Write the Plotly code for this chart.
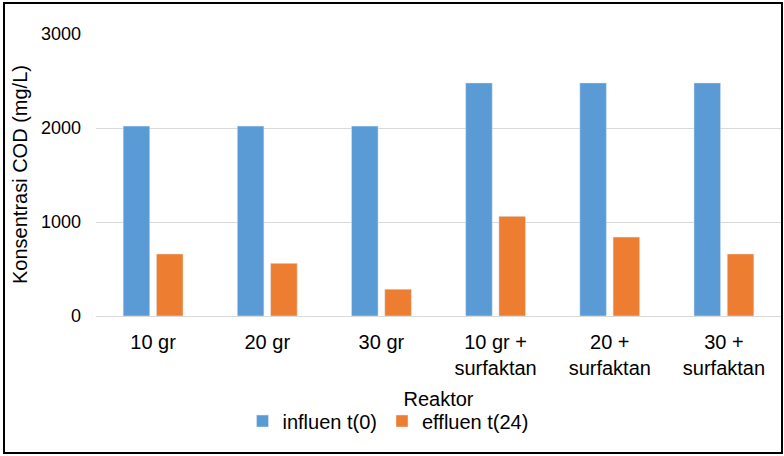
import plotly.graph_objects as go

categories = ["10 gr", "20 gr", "30 gr", "10 gr +<br>surfaktan", "20 +<br>surfaktan", "30 +<br>surfaktan"]
influen = [2020, 2020, 2020, 2480, 2480, 2480]
effluen = [660, 560, 285, 1060, 840, 660]
series_names = ["influen t(0)", "effluen t(24)"]
y_ticks = [0, 1000, 2000, 3000]

W, H = 784, 456
L, R, T, B = 96, 3, 34, 140
pw, ph = W - L - R, H - T - B

def px_x(p):
    return (p - L) / pw

def px_y(p):
    return (H - B - p) / ph

font_family = "Liberation Sans, Arial, sans-serif"

fig = go.Figure()
fig.add_trace(go.Bar(x=categories, y=influen, name=series_names[0], marker_color="#5B9BD5"))
fig.add_trace(go.Bar(x=categories, y=effluen, name=series_names[1], marker_color="#ED7D31"))

fig.update_layout(
    width=W, height=H,
    margin=dict(l=L, r=R, t=T, b=B),
    paper_bgcolor="white", plot_bgcolor="white",
    font=dict(family=font_family, size=20, color="#000000"),
    barmode="group", bargap=0.417, bargroupgap=0.2,
    showlegend=True,
    legend=dict(orientation="h", x=px_x(388), xanchor="center", y=px_y(421), yanchor="middle",
                font=dict(size=20), itemwidth=30, bgcolor="rgba(0,0,0,0)"),
    xaxis=dict(showgrid=False, showline=False, ticks="", tickfont=dict(size=20),
               title=dict(text="Reaktor", font=dict(size=20), standoff=13),
               ticklabelstandoff=12),
    yaxis=dict(range=[0, 3000], tickvals=y_ticks, showgrid=True, gridcolor="#D9D9D9", gridwidth=1,
               zeroline=True, zerolinecolor="#D9D9D9", zerolinewidth=1,
               showline=False, ticks="", tickfont=dict(size=18), ticklabelstandoff=14),
    annotations=[dict(text="Konsentrasi COD (mg/L)", textangle=-90, x=px_x(20), y=0.5,
                      xref="paper", yref="paper", xanchor="center", yanchor="middle",
                      showarrow=False, font=dict(size=20))],
    shapes=[dict(type="rect", xref="paper", yref="paper",
                 x0=px_x(4), x1=px_x(782), y0=px_y(3), y1=px_y(453),
                 line=dict(color="#000000", width=2), fillcolor="rgba(0,0,0,0)", layer="above")],
)

fig.write_html("out.html")
